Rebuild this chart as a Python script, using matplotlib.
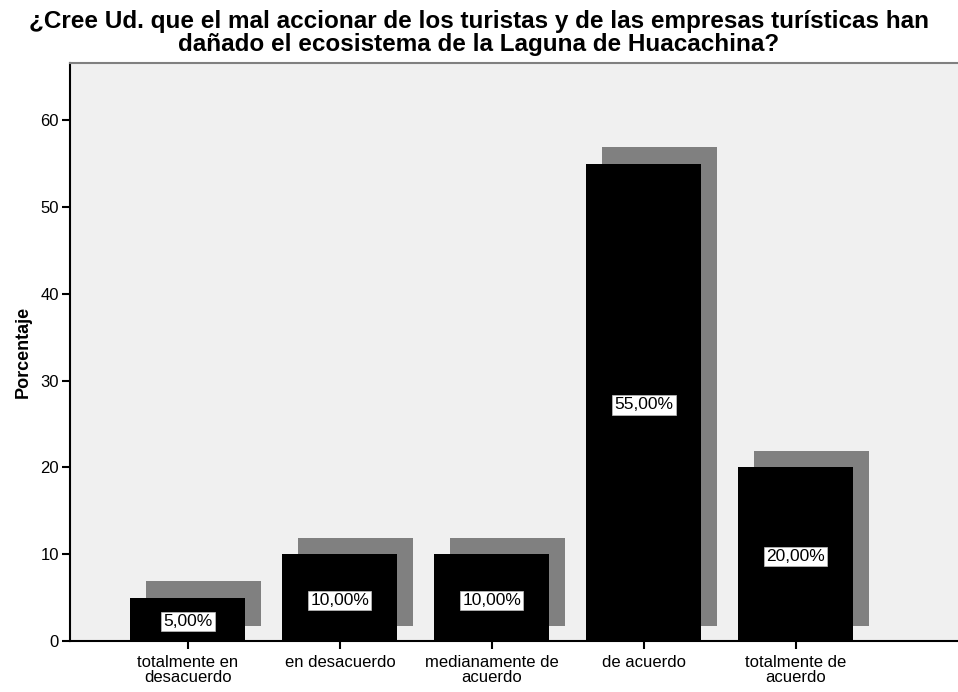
import matplotlib.pyplot as plt
import numpy as np

plt.rcParams['font.family'] = ['Liberation Sans', 'DejaVu Sans']

categorias = ['totalmente en\ndesacuerdo', 'en desacuerdo', 'medianamente de\nacuerdo',
              'de acuerdo', 'totalmente de\nacuerdo']
porcentajes = [5.0, 10.0, 10.0, 55.0, 20.0]

fig = plt.figure(figsize=(9.58, 6.92), dpi=100)
ax = fig.add_axes([0.073, 0.0737, 0.927, 0.8353])
ax.set_facecolor('#f0f0f0')

x = np.arange(len(categorias))
ancho = 0.757
dx, dy, base = 0.105, 1.9, 1.7

# sombra gris detrás de cada barra
ax.bar(x + dx, np.array(porcentajes) + dy - base, bottom=base, width=ancho,
       color='#808080', zorder=2)
ax.bar(x, porcentajes, width=ancho, color='black', zorder=3)

# etiqueta con el porcentaje (coma decimal)
for xi, v in zip(x, porcentajes):
    t = f'{v:.2f}%'.replace('.', ',')
    ax.text(xi, v / 2 - 0.3, t, ha='center', va='center', fontsize=12.5, color='black', zorder=4,
            bbox=dict(boxstyle='square,pad=0.12', fc='white', ec='#c0c0c0', lw=0.5))

ax.set_xlim(-0.776, 5.066)
ax.set_ylim(0, 66.6)
ax.set_yticks(range(0, 61, 10))
ax.set_xticks(x)
ax.set_xticklabels(categorias, fontsize=12, linespacing=1.05)
ax.tick_params(axis='y', labelsize=12, length=6, width=1.5, pad=2)
ax.tick_params(axis='x', length=6, width=1.5, pad=4)

ax.spines['left'].set_linewidth(1.5)
ax.spines['bottom'].set_linewidth(1.5)
ax.spines['top'].set_color('#808080')
ax.spines['top'].set_linewidth(1.5)
ax.spines['right'].set_visible(False)

ax.set_ylabel('Porcentaje', fontsize=13, fontweight='bold', labelpad=6)
fig.suptitle('¿Cree Ud. que el mal accionar de los turistas y de las empresas turísticas han\n'
             'dañado el ecosistema de la Laguna de Huacachina?',
             fontsize=17.5, fontweight='bold', y=0.986, linespacing=1.0)

fig.savefig('out.png', dpi=100)
